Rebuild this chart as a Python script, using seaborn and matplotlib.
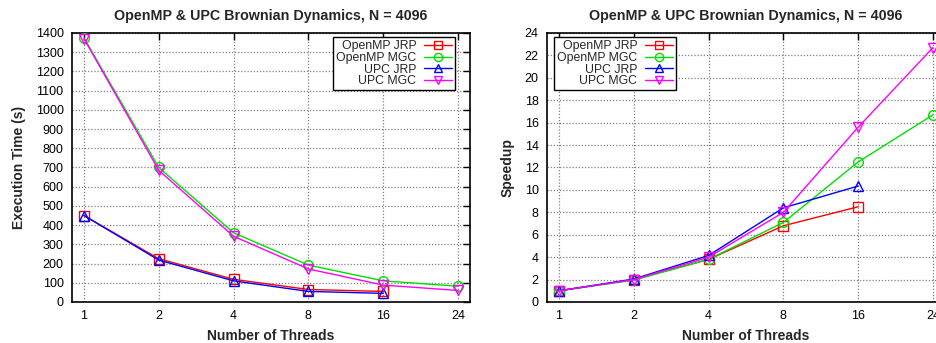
import numpy as np
import pandas as pd
import matplotlib
matplotlib.use('Agg')
import matplotlib.pyplot as plt
import seaborn as sns

# values
threads = ['1', '2', '4', '8', '16', '24']
series = ['OpenMP JRP', 'OpenMP MGC', 'UPC JRP', 'UPC MGC']

time_omp_jrp = [450, 225, 118, 65, 55]
time_omp_mgc = [1375, 700, 360, 192, 110, 82]
time_upc_jrp = [450, 218, 110, 55, 45]
time_upc_mgc = [1370, 685, 342, 172, 88, 60]

speed_omp_jrp = [1.0, 2.0, 3.8, 6.8, 8.5]
speed_omp_mgc = [1.0, 1.95, 3.8, 7.1, 12.5, 16.7]
speed_upc_jrp = [1.0, 2.05, 4.15, 8.4, 10.35]
speed_upc_mgc = [1.0, 2.0, 4.0, 8.0, 15.6, 22.7]

colors = ['#ff0000', '#00e000', '#0000ff', '#ff00ff']
markers = ['s', 'o', '^', 'v']

sns.set_style('white')
plt.rcParams['font.family'] = ['Liberation Sans', 'DejaVu Sans']


def make_long(vals_list):
    rows = []
    for name, vals in zip(series, vals_list):
        for i, v in enumerate(vals):
            rows.append({'series': name, 'pos': i, 'value': v})
    return pd.DataFrame(rows)


def style_axes(ax, ymax, ystep, ylabel):
    ax.set_xlim(-0.16, 5.16)
    ax.set_ylim(0, ymax)
    ax.set_xticks(range(len(threads)))
    ax.set_xticklabels(threads)
    ax.set_yticks(np.arange(0, ymax + 0.01, ystep))
    ax.tick_params(direction='in', top=True, right=True, length=5, width=1,
                   labelsize=9, pad=6, colors='black')
    ax.grid(True, linestyle=(0, (1, 1.5)), color='#808080', linewidth=0.9)
    for sp in ax.spines.values():
        sp.set_color('black')
        sp.set_linewidth(1.2)
    ax.set_xlabel('Number of Threads', fontsize=10, fontweight='bold', labelpad=5)
    ax.set_ylabel(ylabel, fontsize=10, fontweight='bold', labelpad=7)
    ax.set_title('OpenMP & UPC Brownian Dynamics, N = 4096',
                 fontsize=10.3, fontweight='bold', pad=9)


def draw(ax, df):
    for name, c, m in zip(series, colors, markers):
        sub = df[df['series'] == name]
        sns.lineplot(data=sub, x='pos', y='value', ax=ax, color=c, marker=m,
                     markersize=7, mfc='none', mec=c, mew=1.0, linewidth=1.0,
                     label=name, zorder=3)


fig = plt.figure(figsize=(9.37, 3.43), dpi=100)
ax1 = fig.add_axes([72 / 937, 41 / 343, 398 / 937, 269 / 343])
ax2 = fig.add_axes([547 / 937, 41 / 343, 398 / 937, 269 / 343])

draw(ax1, make_long([time_omp_jrp, time_omp_mgc, time_upc_jrp, time_upc_mgc]))
draw(ax2, make_long([speed_omp_jrp, speed_omp_mgc, speed_upc_jrp, speed_upc_mgc]))

style_axes(ax1, 1400, 100, 'Execution Time (s)')
style_axes(ax2, 24, 2, 'Speedup')

for ax, loc, anchor in [(ax1, 'upper right', (0.962, 0.985)),
                        (ax2, 'upper left', (0.018, 0.985))]:
    leg = ax.legend(loc=loc, bbox_to_anchor=anchor, markerfirst=False,
                    fontsize=8.8, frameon=True, fancybox=False,
                    edgecolor='black', framealpha=1, handlelength=2.3,
                    handletextpad=0.6, labelspacing=-0.02, borderpad=0.25,
                    markerscale=0.85, borderaxespad=0.0)
    leg.get_frame().set_linewidth(1.0)

fig.savefig('out.png', dpi=100)
